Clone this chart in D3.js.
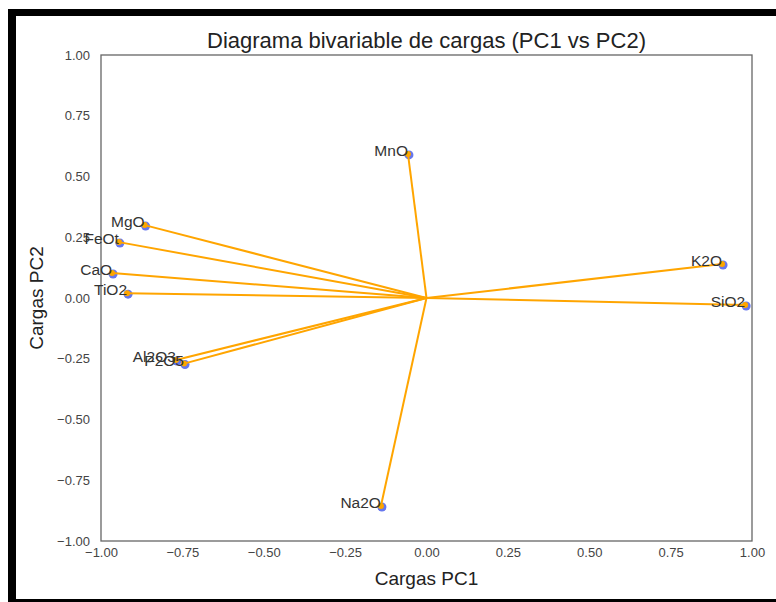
<!DOCTYPE html>
<html>
<head>
<meta charset="utf-8">
<style>
  body { margin: 0; background: #fff; }
  svg { display: block; font-family: "Liberation Sans", Arial, sans-serif; }
  .tick text { fill: #444; font-size: 13px; }
  .lbl { fill: #333; font-size: 15.5px; }
</style>
</head>
<body>
<div id="chart"></div>
<script src="https://cdn.jsdelivr.net/npm/d3@7/dist/d3.min.js"></script>
<script>
// loadings
var variables = ["MgO", "FeOt", "CaO", "TiO2", "Al2O3", "P2O5", "MnO", "Na2O", "K2O", "SiO2"];
var pc1 = [-0.866, -0.945, -0.966, -0.920, -0.770, -0.745, -0.057, -0.140, 0.908, 0.979];
var pc2 = [0.300, 0.230, 0.103, 0.020, -0.255, -0.270, 0.593, -0.856, 0.140, -0.029];
var ticks = [-1, -0.75, -0.5, -0.25, 0, 0.25, 0.5, 0.75, 1];

var W = 776, H = 602;
var margin = {left: 101, right: 24, top: 55, bottom: 61};

var svg = d3.select("#chart").append("svg")
  .attr("width", W).attr("height", H);

// black frame around the figure
svg.append("rect").attr("x", 8).attr("y", 9).attr("width", W - 8).attr("height", 7).attr("fill", "#000");
svg.append("rect").attr("x", 8).attr("y", 9).attr("width", 8).attr("height", H - 9).attr("fill", "#000");
svg.append("rect").attr("x", 8).attr("y", 599).attr("width", W - 8).attr("height", 3).attr("fill", "#000");

var x = d3.scaleLinear().domain([-1, 1]).range([margin.left, W - margin.right]);
var y = d3.scaleLinear().domain([-1, 1]).range([H - margin.bottom, margin.top]);

var fmt = d3.format(".2f");
var minus = function (d) { return fmt(d).replace("-", "\u2212"); };

svg.append("g")
  .attr("transform", "translate(0," + (H - margin.bottom) + ")")
  .call(d3.axisBottom(x).tickValues(ticks).tickFormat(minus).tickSize(0).tickPadding(7))
  .call(function (g) { g.select(".domain").remove(); });

svg.append("g")
  .attr("transform", "translate(" + margin.left + ",0)")
  .call(d3.axisLeft(y).tickValues(ticks).tickFormat(minus).tickSize(0).tickPadding(11))
  .call(function (g) { g.select(".domain").remove(); });

svg.append("rect")
  .attr("x", x(-1)).attr("y", y(1))
  .attr("width", x(1) - x(-1)).attr("height", y(-1) - y(1))
  .attr("fill", "none").attr("stroke", "#666").attr("stroke-width", 1.3);

var data = variables.map(function (v, i) { return {name: v, a: pc1[i], b: pc2[i]}; });

svg.append("g").selectAll("circle")
  .data(data).enter().append("circle")
  .attr("cx", function (d) { return x(d.a) + 1; })
  .attr("cy", function (d) { return y(d.b) + 1; })
  .attr("r", 4.5)
  .attr("fill", "#6677ee");

svg.append("g").selectAll("line")
  .data(data).enter().append("line")
  .attr("x1", x(0)).attr("y1", y(0))
  .attr("x2", function (d) { return x(d.a); })
  .attr("y2", function (d) { return y(d.b); })
  .attr("stroke", "#ffa500").attr("stroke-width", 2);

svg.append("g").selectAll("circle")
  .data(data).enter().append("circle")
  .attr("cx", function (d) { return x(d.a); })
  .attr("cy", function (d) { return y(d.b); })
  .attr("r", 3)
  .attr("fill", "#ffa500");

svg.append("g").selectAll("text")
  .data(data).enter().append("text")
  .attr("class", "lbl")
  .attr("x", function (d) { return x(d.a); })
  .attr("y", function (d) { return y(d.b) + 2; })
  .attr("text-anchor", "end")
  .text(function (d) { return d.name; });

svg.append("text")
  .attr("x", (x(-1) + x(1)) / 2).attr("y", 48)
  .attr("text-anchor", "middle")
  .attr("font-size", 22).attr("fill", "#222")
  .text("Diagrama bivariable de cargas (PC1 vs PC2)");

svg.append("text")
  .attr("x", (x(-1) + x(1)) / 2).attr("y", 585)
  .attr("text-anchor", "middle")
  .attr("font-size", 19).attr("fill", "#222")
  .text("Cargas PC1");

svg.append("text")
  .attr("transform", "translate(43," + y(0) + ") rotate(-90)")
  .attr("text-anchor", "middle")
  .attr("font-size", 19).attr("fill", "#222")
  .text("Cargas PC2");
</script>
</body>
</html>
